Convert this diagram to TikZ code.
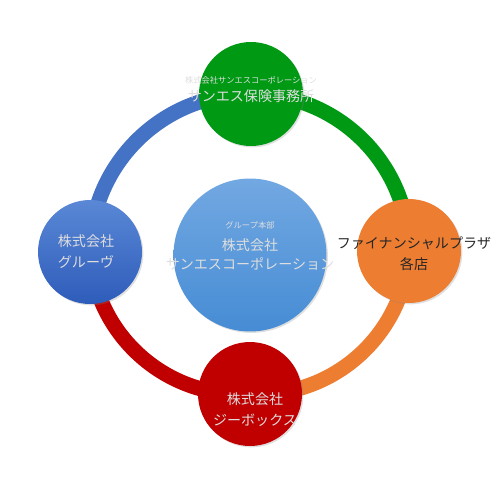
\documentclass[tikz,border=0pt]{standalone}
\usepackage{fontspec}
\newfontfamily\jp{Noto Sans CJK JP}
\usetikzlibrary{positioning, shadows, backgrounds}
\definecolor{sangreen}{RGB}{0,153,20}
\definecolor{sanorange}{RGB}{237,125,49}
\definecolor{sanred}{RGB}{192,0,0}
\definecolor{sanblue}{RGB}{68,114,196}
\definecolor{sanbluetop}{RGB}{90,136,214}
\definecolor{sanbluebot}{RGB}{46,92,186}
\definecolor{sanskytop}{RGB}{114,168,226}
\definecolor{sanskybot}{RGB}{70,140,212}
\definecolor{sanwhite}{RGB}{222,222,222}
\definecolor{sandark}{RGB}{38,38,38}
\tikzset{
  kaisha/.style={circle, minimum size=2.08cm, inner sep=0pt, draw=none, drop shadow={shadow xshift=0.8pt, shadow yshift=-0.8pt, opacity=0.25}},
  honbu/.style={circle, minimum size=3.06cm, inner sep=0pt, draw=none, top color=sanskytop, bottom color=sanskybot, drop shadow={shadow xshift=0.8pt, shadow yshift=-0.8pt, opacity=0.25}},
  mei/.style={align=center, font=\jp\fontsize{8pt}{12pt}\selectfont, text=sanwhite, inner sep=0pt},
  komoji/.style={font=\jp\fontsize{4.7pt}{6pt}\selectfont, text=sanwhite, inner sep=0pt},
  wa/.style={line width=8.6pt}
}
\begin{document}
\begin{tikzpicture}[x=0.02cm, y=-0.02cm]
  \useasboundingbox (0,0) rectangle (500,500);
  % 中央
  \node (honbu) [honbu] at (250,255) {};
  % グループ各社
  \node (hoken) [kaisha, fill=sangreen] at (251,94) {};
  \node (plaza) [kaisha, fill=sanorange] at (409,251) {};
  \node (gbox) [kaisha, fill=sanred] at (250,394) {};
  \node (groove) [kaisha, top color=sanbluetop, bottom color=sanbluebot] at (90,252) {};
  % 輪
  \begin{scope}[on background layer]
    \draw [wa, draw=sanblue] (groove.center) to[bend left=45] (hoken.center);
    \draw [wa, draw=sangreen] (hoken.center) to[bend left=45] (plaza.center);
    \draw [wa, draw=sanorange] (plaza.center) to[bend left=45] (gbox.center);
    \draw [wa, draw=sanred] (gbox.center) to[bend left=45] (groove.center);
  \end{scope}
  % 文字
  \node (hoken-sub) [komoji] at (251,80) {株式会社サンエスコーポレーション};
  \node (hoken-txt) [mei] at (251,96) {サンエス保険事務所};
  \node (honbu-sub) [komoji] at (250,225) {グループ本部};
  \node (honbu-txt) [mei, font=\jp\fontsize{8pt}{10.8pt}\selectfont] at (250,254) {株式会社\\サンエスコーポレーション};
  \node (plaza-txt) [mei, text=sandark] at (414,254) {ファイナンシャルプラザ\\各店};
  \node (groove-txt) [mei] at (86,252) {株式会社\\グルーヴ};
  \node (gbox-txt) [mei] at (255,410) {株式会社\\ジーボックス};
\end{tikzpicture}
\end{document}
